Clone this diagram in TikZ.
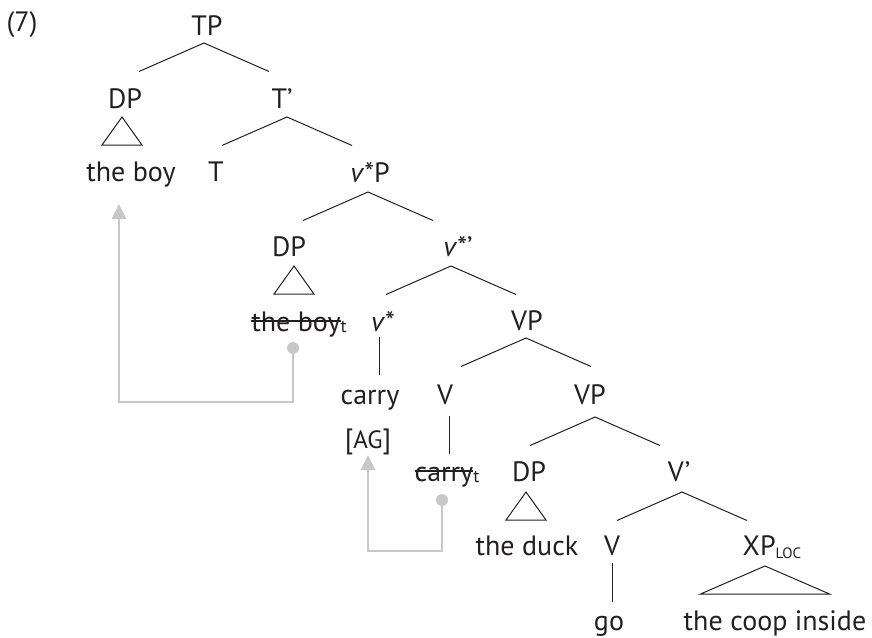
\documentclass[tikz,border=0pt]{standalone}
\usepackage{fontspec}
\setmainfont{PT Sans}
\usetikzlibrary{arrows.meta}

\definecolor{ink}{HTML}{231F20}
\definecolor{tracegray}{HTML}{C8C8C8}

% struck-through copy of a moved constituent
\newcommand\struck[1]{\sbox0{#1}\rlap{\rule[0.32em]{\wd0}{1.7pt}}\usebox0}
\newcommand\trsub{\raisebox{-1.5pt}{\fontsize{18}{19}\selectfont t}}
\newcommand\locsub{\raisebox{-3pt}{\fontsize{15}{16}\selectfont LOC}}

\begin{document}
\begin{tikzpicture}[x=1pt,y=-1pt,
  lbl/.style={anchor=base,inner sep=0pt,text=ink,font=\fontsize{28}{32}\selectfont},
  branch/.style={draw=ink,line width=1pt},
  roof/.style={draw=ink,line width=1pt,line join=miter},
  trace/.style={draw=tracegray,line width=2.8pt,-{Triangle[length=15pt,width=14pt]}},
  tracedot/.style={circle,fill=tracegray,inner sep=0pt,minimum size=12pt}]
\useasboundingbox (0,0) rectangle (872,637);

% example number
\node[lbl] (ex) at (22,31) {(7)};

% labels, row by row
\node[lbl] (TP)   at (207,35)  {TP};
\node[lbl] (DPa)  at (125,108) {DP};
\node[lbl] (Tbar) at (282,108) {T’};
\node[lbl] (boy)  at (131,181) {the boy};
\node[lbl] (T)    at (216,181) {T};
\node[lbl] (vP)   at (370,182) {\textit{v}*P};
\node[lbl] (DPb)  at (289,256) {DP};
\node[lbl] (vbar) at (458,256) {\textit{v}*’};
\node[lbl] (boyt) at (299,331) {\struck{the boy}\trsub};
\node[lbl] (v)    at (383,331) {\textit{v}*};
\node[lbl] (VPa)  at (527,330) {VP};
\node[lbl] (carry) at (370,404) {carry};
\node[lbl] (Va)   at (445,404) {V};
\node[lbl] (VPb)  at (590,404) {VP};
\node[lbl] (ag)   at (368,448) {[{\fontsize{25}{28}\selectfont AG}]};
\node[lbl] (carryt) at (447,481) {\struck{carry}\trsub};
\node[lbl] (DPc)  at (529,481) {DP};
\node[lbl] (Vbar) at (679,481) {V’};
\node[lbl] (duck) at (527,555) {the duck};
\node[lbl] (Vb)   at (612,555) {V};
\node[lbl] (XP)   at (772,555) {XP\locsub};
\node[lbl] (go)   at (609,630) {go};
\node[lbl] (coop) at (775,630) {the coop inside};

% binary branching
\foreach \n/\ax/\ay in {TP/204/43, Tbar/287/117, vP/368/192, vbar/451/266,
                        VPa/526/338, VPb/595/417, Vbar/682/492}{
  \coordinate (\n-apex) at (\ax,\ay);
  \coordinate (\n-left) at (\ax-65,\ay+28.5);
  \coordinate (\n-right) at (\ax+65,\ay+28.5);
  \draw[branch] (\n-left) -- (\n-apex) -- (\n-right);
}

% unary branching
\coordinate (v-top) at (379,337);   \coordinate (v-bot) at (379,375);
\coordinate (Va-top) at (449,416);  \coordinate (Va-bot) at (449,454);
\coordinate (Vb-top) at (612,563);  \coordinate (Vb-bot) at (612,602);
\draw[branch] (v-top) -- (v-bot);
\draw[branch] (Va-top) -- (Va-bot);
\draw[branch] (Vb-top) -- (Vb-bot);

% roofs over unanalysed phrases
\foreach \n/\ax/\ay/\hw in {DPa/122/117/20, DPb/294/266/20, DPc/526/492/20, XP/765/566/64.5}{
  \coordinate (\n-roof) at (\ax,\ay);
  \draw[roof] (\n-roof) -- ++(-\hw,28) -- ++(2*\hw,0) -- cycle;
}

% movement traces
\node[tracedot] (dot1) at (293,348) {};
\coordinate (tip1) at (119,204);
\draw[trace] (dot1.center) -- ++(0,54) -| (tip1);

\node[tracedot] (dot2) at (442,500) {};
\coordinate (tip2) at (368,455);
\draw[trace] (dot2.center) -- ++(0,51) -| (tip2);
\end{tikzpicture}
\end{document}
